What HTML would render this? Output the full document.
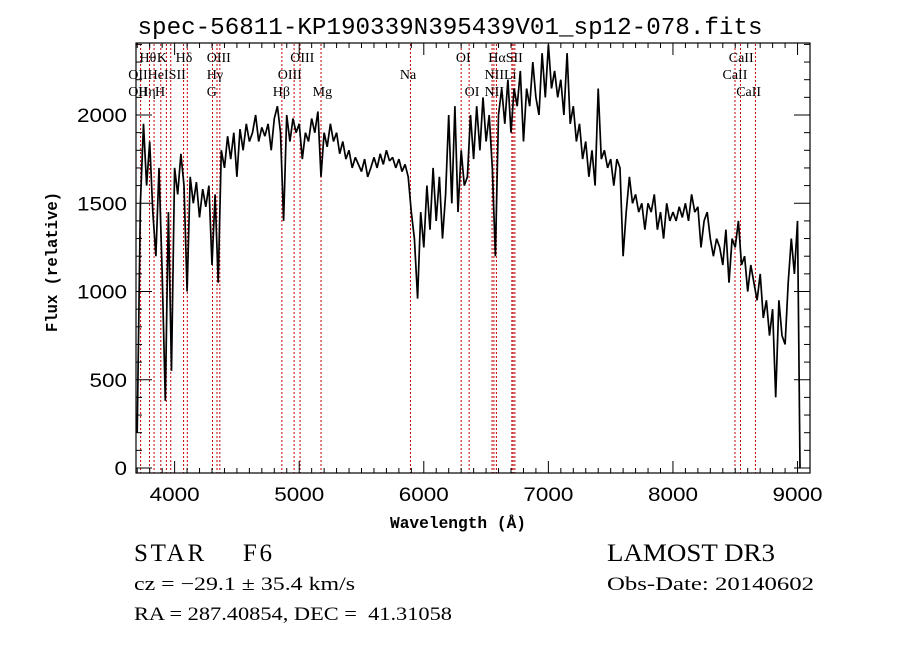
<!DOCTYPE html>
<html><head><meta charset="utf-8"><style>
body{margin:0;background:#fff;width:900px;height:649px;overflow:hidden}
svg{display:block}
.m{font-family:"Liberation Mono",monospace}
.s{font-family:"Liberation Serif",serif}
.a{font-family:"Liberation Sans",sans-serif}
</style></head><body>
<svg id="chart" width="900" height="649" viewBox="0 0 900 649" xmlns="http://www.w3.org/2000/svg">
<text class="m" x="450" y="34" font-size="24" text-anchor="middle" textLength="625" lengthAdjust="spacingAndGlyphs">spec-56811-KP190339N395439V01_sp12-078.fits</text>
<g id="lines"></g>
<g id="labels"></g>
<path id="spec" fill="none" stroke="#000" stroke-width="1.7" stroke-linejoin="bevel"/>
<rect x="136" y="43" width="674" height="430" fill="none" stroke="#000" stroke-width="1.2"/>
<g id="ticks"></g>
<text class="m" x="458" y="528" font-size="17" font-weight="bold" text-anchor="middle" textLength="136" lengthAdjust="spacingAndGlyphs">Wavelength (Å)</text>
<text class="m" x="0" y="0" font-size="17" font-weight="bold" text-anchor="middle" textLength="140" lengthAdjust="spacingAndGlyphs" transform="translate(57,262) rotate(-90)">Flux (relative)</text>
<text class="s" x="134" y="561" font-size="25" textLength="138" lengthAdjust="spacing">STAR&#160;&#160;&#160;&#160;F6</text>
<text class="s" x="134" y="590" font-size="19" textLength="221" lengthAdjust="spacingAndGlyphs">cz = −29.1 ± 35.4 km/s</text>
<text class="s" x="134" y="620" font-size="19" textLength="318" lengthAdjust="spacingAndGlyphs">RA = 287.40854, DEC =&#160; 41.31058</text>
<text class="s" x="607" y="561" font-size="25" textLength="168" lengthAdjust="spacingAndGlyphs">LAMOST DR3</text>
<text class="s" x="607" y="590" font-size="19" textLength="207" lengthAdjust="spacingAndGlyphs">Obs-Date: 20140602</text>
</svg>
<script>
const wavelengths=[3700,3725,3750,3775,3800,3825,3850,3875,3900,3925,3950,3975,
4000,4025,4050,4075,4100,4125,4150,4175,4200,4225,4250,4275,4300,4325,4350,4375,4400,4425,4450,4475,4500,4525,4550,4575,4600,4625,4650,4675,4700,4725,4750,4775,4800,4825,4850,4875,4900,4925,4950,4975,
5000,5025,5050,5075,5100,5125,5150,5175,5200,5225,5250,5275,5300,5325,5350,5375,5400,5425,5450,5475,5500,5525,5550,5575,5600,5625,5650,5675,5700,5725,5750,5775,5800,5825,5850,5875,5900,5925,5950,5975,
6000,6025,6050,6075,6100,6125,6150,6175,6200,6225,6250,6275,6300,6325,6350,6375,6400,6425,6450,6475,6500,6525,6550,6575,6600,6625,6650,6675,6700,6725,6750,6775,6800,6825,6850,6875,6900,6925,6950,6975,
7000,7025,7050,7075,7100,7125,7150,7175,7200,7225,7250,7275,7300,7325,7350,7375,7400,7425,7450,7475,7500,7525,7550,7575,7600,7625,7650,7675,7700,7725,7750,7775,7800,7825,7850,7875,7900,7925,7950,7975,
8000,8025,8050,8075,8100,8125,8150,8175,8200,8225,8250,8275,8300,8325,8350,8375,8400,8425,8450,8475,8500,8525,8550,8575,8600,8625,8650,8675,8700,8725,8750,8775,8800,8825,8850,8875,8900,8925,8950,8975,
9000,9010,9020];
const flux=[200,1500,1950,1600,1850,1450,1200,1700,1100,380,1450,550,
1700,1550,1780,1600,1000,1650,1500,1620,1420,1580,1480,1600,1150,1550,1050,1800,1700,1880,1750,1900,1650,1920,1800,1950,1850,1900,2000,1850,1930,1880,1950,1800,1980,2050,1900,1400,2000,1850,1980,1900,
1950,1750,1900,1850,1980,1900,2020,1650,1900,1820,1950,1850,1900,1780,1850,1750,1800,1700,1760,1720,1680,1750,1650,1700,1760,1700,1780,1720,1800,1740,1760,1700,1750,1680,1720,1650,1450,1300,960,1450,
1250,1600,1350,1700,1400,1650,1300,1550,2000,1500,2050,1450,1800,1600,1650,2000,1750,2050,1800,2100,1850,2000,1700,1200,2000,2150,1950,2200,1900,2150,2050,2250,1850,2150,2050,2300,2100,2000,2350,2100,
2400,2150,2250,2100,2200,2000,2350,1950,2050,1850,1950,1750,1850,1650,1800,1600,2150,1750,1800,1700,1750,1600,1750,1700,1200,1450,1650,1500,1550,1450,1500,1350,1500,1450,1550,1350,1450,1300,1500,1400,
1450,1400,1480,1420,1500,1400,1550,1450,1480,1250,1400,1450,1300,1200,1300,1250,1150,1350,1050,1300,1250,1400,1150,1200,1000,1150,1050,950,1100,850,950,750,900,400,950,750,700,1050,1300,1100,
1400,700,0];
const lineWaves=[3727,3798,3835,3889,3934,3969,4072,4102,4304,4340,4363,4861,4959,5007,5175,5893,6300,6364,6548,6563,6583,6707,6717,6731,8498,8542,8662];
const labelTexts=["Hθ","K","Hδ","OIII","OIII","OI","HαSII","CaII","OIIHeISII","Hγ","OIII","Na","NIILi","CaII","OII","Hη","H","G","Hβ","Mg","OI","NII","CaII"];
const labelWaves=[3790,3930,4080,4330,5000,6330,6590,8520,3700,4330,4900,5880,6560,8470,3700,3780,3915,4330,4860,5180,6400,6560,8580];
const labelRows=[0,0,0,0,0,0,0,0,1,1,1,1,1,1,2,2,2,2,2,2,2,2,2];
const xTicks=[4000,5000,6000,7000,8000,9000];
const yTicks=[0,500,1000,1500,2000];

const X=l=>136+(l-3690)*(674/5410);
const Y=v=>468-v*0.1765;
const NS="http://www.w3.org/2000/svg";
function mk(t,a,p){const e=document.createElementNS(NS,t);for(const k in a)e.setAttribute(k,a[k]);p.appendChild(e);return e;}

let d="";
wavelengths.forEach((w,i)=>{d+=(i?"L":"M")+X(w).toFixed(1)+" "+Math.max(44,Y(flux[i])).toFixed(1);});
document.getElementById("spec").setAttribute("d",d);

const lg=document.getElementById("lines");
lineWaves.forEach(w=>{
  const l=mk("line",{x1:X(w),x2:X(w),y1:44,y2:473,stroke:"#c00000","stroke-width":1,"stroke-dasharray":"2,2"},lg);
  
  
});
const lb=document.getElementById("labels");
labelTexts.forEach((t,i)=>{
  const e=mk("text",{x:X(labelWaves[i])-9,y:62+labelRows[i]*17,"font-size":14,"class":"s"},lb);
  e.textContent=t;
  
  
});

const tg=document.getElementById("ticks");
for(let w=3700;w<=9100;w+=100){
  const L=(w%1000===0)?12:5;
  mk("line",{x1:X(w),x2:X(w),y1:473,y2:473-L,stroke:"#000"},tg);
  mk("line",{x1:X(w),x2:X(w),y1:43,y2:43+L,stroke:"#000"},tg);
}
for(let v=0;v<=2400;v+=100){
  if(Y(v)<43)break;
  const L=(v%500===0)?16:6;
  mk("line",{x1:136,x2:136+L,y1:Y(v),y2:Y(v),stroke:"#000"},tg);
  mk("line",{x1:810,x2:810-L,y1:Y(v),y2:Y(v),stroke:"#000"},tg);
}
xTicks.forEach(w=>{
  const e=mk("text",{x:X(w)-25,y:501,"font-size":19,"class":"a",textLength:50,lengthAdjust:"spacingAndGlyphs"},tg);
  e.textContent=w;
  
  
});
yTicks.forEach(v=>{
  const s=String(v);
  const e=mk("text",{x:127-12.5*s.length,y:Y(v)+7,"font-size":19,"class":"a",textLength:12.5*s.length,lengthAdjust:"spacingAndGlyphs"},tg);
  e.textContent=v;
  
  
});
</script>
</body></html>
